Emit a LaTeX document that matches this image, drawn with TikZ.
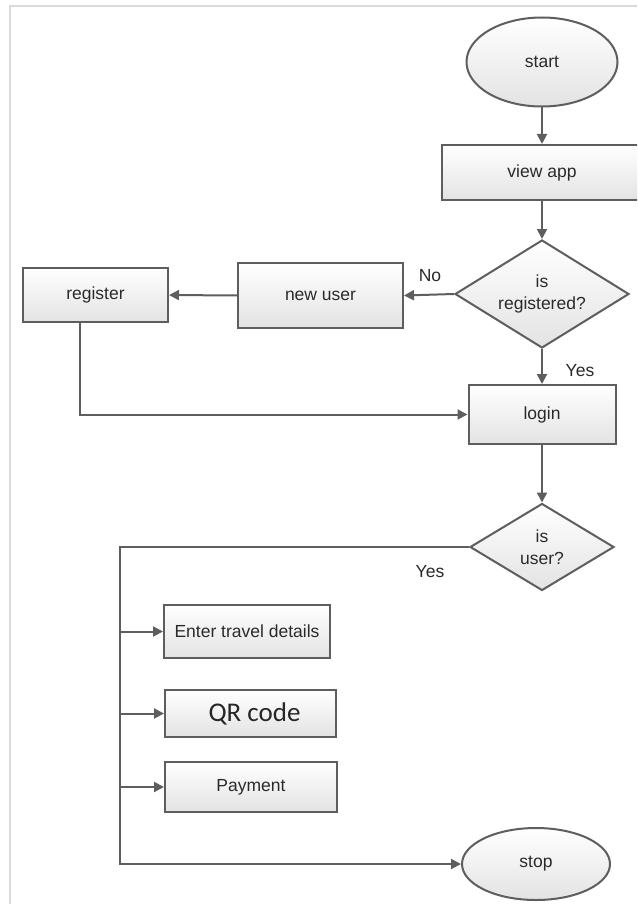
\documentclass[tikz,border=0pt]{standalone}
\usepackage{fontspec}
\setmainfont{Liberation Sans}
\newfontfamily\qrfont{Carlito}
\usetikzlibrary{shapes.geometric,arrows.meta,calc}
\definecolor{edgec}{HTML}{5E5E5E}
\definecolor{txtc}{HTML}{2A2A2A}
\tikzset{
  shapebase/.style={draw=edgec, line width=2pt, top color=white, bottom color=black!11,
    text=txtc, font=\fontsize{17.5}{22}\selectfont, align=center, inner sep=0pt},
  procbox/.style={shapebase, rectangle},
  termnode/.style={shapebase, ellipse},
  decnode/.style={shapebase, diamond},
  arr/.style={draw=edgec, line width=2pt, -{Triangle[width=10pt,length=10pt]}},
  lbl/.style={text=txtc, font=\fontsize{17.5}{20}\selectfont, inner sep=0pt}
}
\begin{document}
\begin{tikzpicture}[x=1pt,y=-1pt]
\clip (0,0) rectangle (637,904);
\fill[white] (0,0) rectangle (637,904);
\draw[black!15, line width=2pt] (10,904) -- (10,6) -- (637,6);

\node[termnode, minimum width=151pt, minimum height=89pt] (start) at (542,62) {start};
\node[procbox, minimum width=200pt, minimum height=55pt] (viewapp) at (542,172.5) {view app};
\node[decnode, aspect=1.6, minimum width=174pt, minimum height=108pt] (d1) at (542,294) {is\\registered?};
\node[procbox, minimum width=165pt, minimum height=65pt] (newuser) at (320.5,295.5) {new user};
\node[procbox, minimum width=145pt, minimum height=54pt] (register) at (95.5,295) {register};
\node[procbox, minimum width=147pt, minimum height=59pt] (login) at (542,414.5) {login};
\node[decnode, aspect=1.65, minimum width=144pt, minimum height=87pt] (d2) at (542,547) {is\\user?};
\node[procbox, minimum width=166pt, minimum height=53pt] (enter) at (247,631.5) {Enter travel details};
\node[procbox, minimum width=171pt, minimum height=47pt, font=\qrfont\fontsize{27}{30}\selectfont, text=black!85] (qr) at (250.5,713.5) {\hspace*{8pt}QR code};
\node[procbox, minimum width=172pt, minimum height=50pt] (pay) at (251,787) {Payment};
\node[termnode, minimum width=148pt, minimum height=72pt] (stop) at (536,864) {stop};

\coordinate (trunk) at (120,547);
\coordinate (regdown) at (80,322);

\draw[arr] (start.south) -- (viewapp.north);
\draw[arr] (viewapp.south) -- (d1.north);
\draw[arr] (d1.west) -- (newuser.east);
\draw[arr] (newuser.west) -- (register.east);
\draw[arr] (d1.south) -- (login.north);
\draw[arr] (register.south -| regdown) |- (login.west);
\draw[arr] (login.south) -- (d2.north);
\draw[arr] (d2.west) -- (trunk) |- (stop.west);
\draw[arr] (trunk |- enter.west) -- (enter.west);
\draw[arr] (trunk |- qr.west) -- (qr.west);
\draw[arr] (trunk |- pay.west) -- (pay.west);

\node[lbl] (no) at (430,276) {No};
\node[lbl] (yes1) at (580,371) {Yes};
\node[lbl] (yes2) at (430,572) {Yes};
\end{tikzpicture}
\end{document}
